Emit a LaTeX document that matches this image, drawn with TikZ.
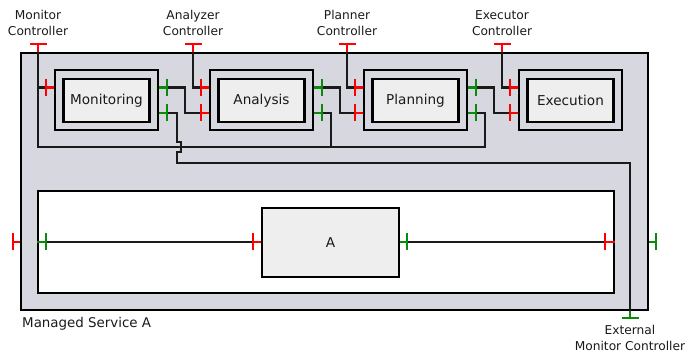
\documentclass[tikz,border=0pt]{standalone}
\usepackage{fontspec}
\setmainfont{DejaVu Sans}
\usepackage{xcolor}
\usepackage{tikz}
\usetikzlibrary{calc}
\definecolor{msframe}{HTML}{D6D7DF}
\definecolor{mscore}{HTML}{EEEEEE}
\definecolor{msreq}{HTML}{FF0000}
\definecolor{msprov}{HTML}{0A8A0A}
\definecolor{msink}{HTML}{1A1A1A}
\tikzset{
  service/.style={rectangle,draw=black,line width=2.2pt,fill=msframe,
                  minimum width=627pt,minimum height=257pt},
  comp/.style={rectangle,draw=black,line width=2.2pt,fill=msframe,
               minimum width=103pt,minimum height=60pt},
  core/.style={rectangle,draw=black,line width=2.2pt,fill=mscore,
               minimum width=86pt,minimum height=43pt,
               font=\fontsize{13.6}{16}\selectfont,text=msink},
  wire/.style={line width=2.2pt,draw=msink},
  req/.style={line width=2.2pt,draw=msreq},
  prov/.style={line width=2.2pt,draw=msprov},
  ctrl/.style={align=center,inner sep=0pt,font=\fontsize{12.2}{16}\selectfont,text=msink},
}
\newcommand{\vport}[3]{\draw[#1] (#2) -- (#3); \draw[#1] ([yshift=8.5pt]#2) -- ([yshift=-8.5pt]#2);}
\newcommand{\hport}[3]{\draw[#1] (#2) -- (#3); \draw[#1] ([xshift=8.5pt]#2) -- ([xshift=-8.5pt]#2);}
\begin{document}
\begin{tikzpicture}[x=1pt,y=-1pt,
  sysbox/.style={rectangle,draw=black,line width=2.2pt,fill=white,
                 minimum width=576pt,minimum height=102pt},
  unit/.style={rectangle,draw=black,line width=2.2pt,fill=mscore,
               minimum width=137pt,minimum height=69pt,
               font=\fontsize{13.6}{16}\selectfont,text=msink}]
  \useasboundingbox (0,0) rectangle (690,352);
  \node[service] (svc) at (334.5,181.5) {};
  \node[font=\fontsize{13.4}{16}\selectfont,text=msink,anchor=base west,inner sep=0pt] (svc-name) at (22,327) {Managed Service A};
  \foreach \n/\t/\x in {mon/Monitoring/106.5,ana/Analysis/261.5,pla/Planning/415.5,exe/Execution/570.5}{
    \node[comp] (\n) at (\x,100) {};
    \node[core] (\n-core) at (\x,100.5) {\t};
    \coordinate (\n-in1) at ([xshift=-8pt,yshift=12.5pt]\n.west);
    \coordinate (\n-in2) at ([xshift=-8pt,yshift=-13pt]\n.west);
    \coordinate (\n-out1) at ([xshift=7.5pt,yshift=12.5pt]\n.east);
    \coordinate (\n-out2) at ([xshift=7.5pt,yshift=-13pt]\n.east);
  }
  \foreach \n/\t/\x in {mc/Monitor/38,ac/Analyzer/193,pc/Planner/347,xc/Executor/502}{
    \coordinate (\n) at (\x,44);
    \coordinate (\n-foot) at (\n |- svc.north);
    \node[ctrl,anchor=south] (\n-label) at (\x,36) {\t\\Controller};
  }
  \coordinate (emc) at (630,318);
  \coordinate (emc-foot) at (emc |- svc.south);
  \node[ctrl,anchor=north] (emc-label) at (630,325) {External\\Monitor Controller};
  \node[sysbox] (sys) at (326,242) {};
  \node[unit] (a) at (330.5,242.5) {A};
  \coordinate (svc-in) at (13,242);
  \coordinate (sys-in) at (46,242);
  \coordinate (a-in) at (253,242);
  \coordinate (a-out) at (407,242);
  \coordinate (sys-out) at (605,242);
  \coordinate (svc-out) at (656,242);
  \coordinate (bus) at (38,147);
  \draw[wire] (mc-foot) |- (mon-in1);
  \draw[wire] (ac-foot) |- (ana-in1);
  \draw[wire] (pc-foot) |- (pla-in1);
  \draw[wire] (xc-foot) |- (exe-in1);
  \draw[wire] (mon-out1) -- ++(18,0) |- (ana-in2);
  \draw[wire] (ana-out1) -- ++(18,0) |- (pla-in2);
  \draw[wire] (pla-out1) -- ++(18,0) |- (exe-in2);
  \draw[wire] (mc-foot) -- (bus) -| ($(pla-out2)+(9.5,0)$) -- (pla-out2);
  \draw[wire] (ana-out2) -- ++(9,0) -- ++(0,34);
  \draw[wire] (mon-out2) -- ++(10.5,0) -- ++(0,29) -- ++(4,0) -- ++(0,10) -- ++(-4,0) -- ++(0,11) -| (emc-foot);
  \draw[wire] (sys-in) -- (a-in);
  \draw[wire] (a-out) -- (sys-out);
  \foreach \n in {mc,ac,pc,xc}{\hport{req}{\n}{\n-foot}}
  \hport{prov}{emc}{emc-foot}
  \foreach \n in {mon,ana,pla,exe}{\vport{req}{\n-in1}{\n-in1 -| \n.west}}
  \foreach \n in {ana,pla,exe}{\vport{req}{\n-in2}{\n-in2 -| \n.west}}
  \foreach \n in {mon,ana,pla}{\vport{prov}{\n-out1}{\n-out1 -| \n.east}\vport{prov}{\n-out2}{\n-out2 -| \n.east}}
  \vport{req}{svc-in}{svc-in -| svc.west}
  \vport{prov}{sys-in}{sys-in -| sys.west}
  \vport{req}{a-in}{a-in -| a.west}
  \vport{prov}{a-out}{a-out -| a.east}
  \vport{req}{sys-out}{sys-out -| sys.east}
  \vport{prov}{svc-out}{svc-out -| svc.east}
\end{tikzpicture}
\end{document}
